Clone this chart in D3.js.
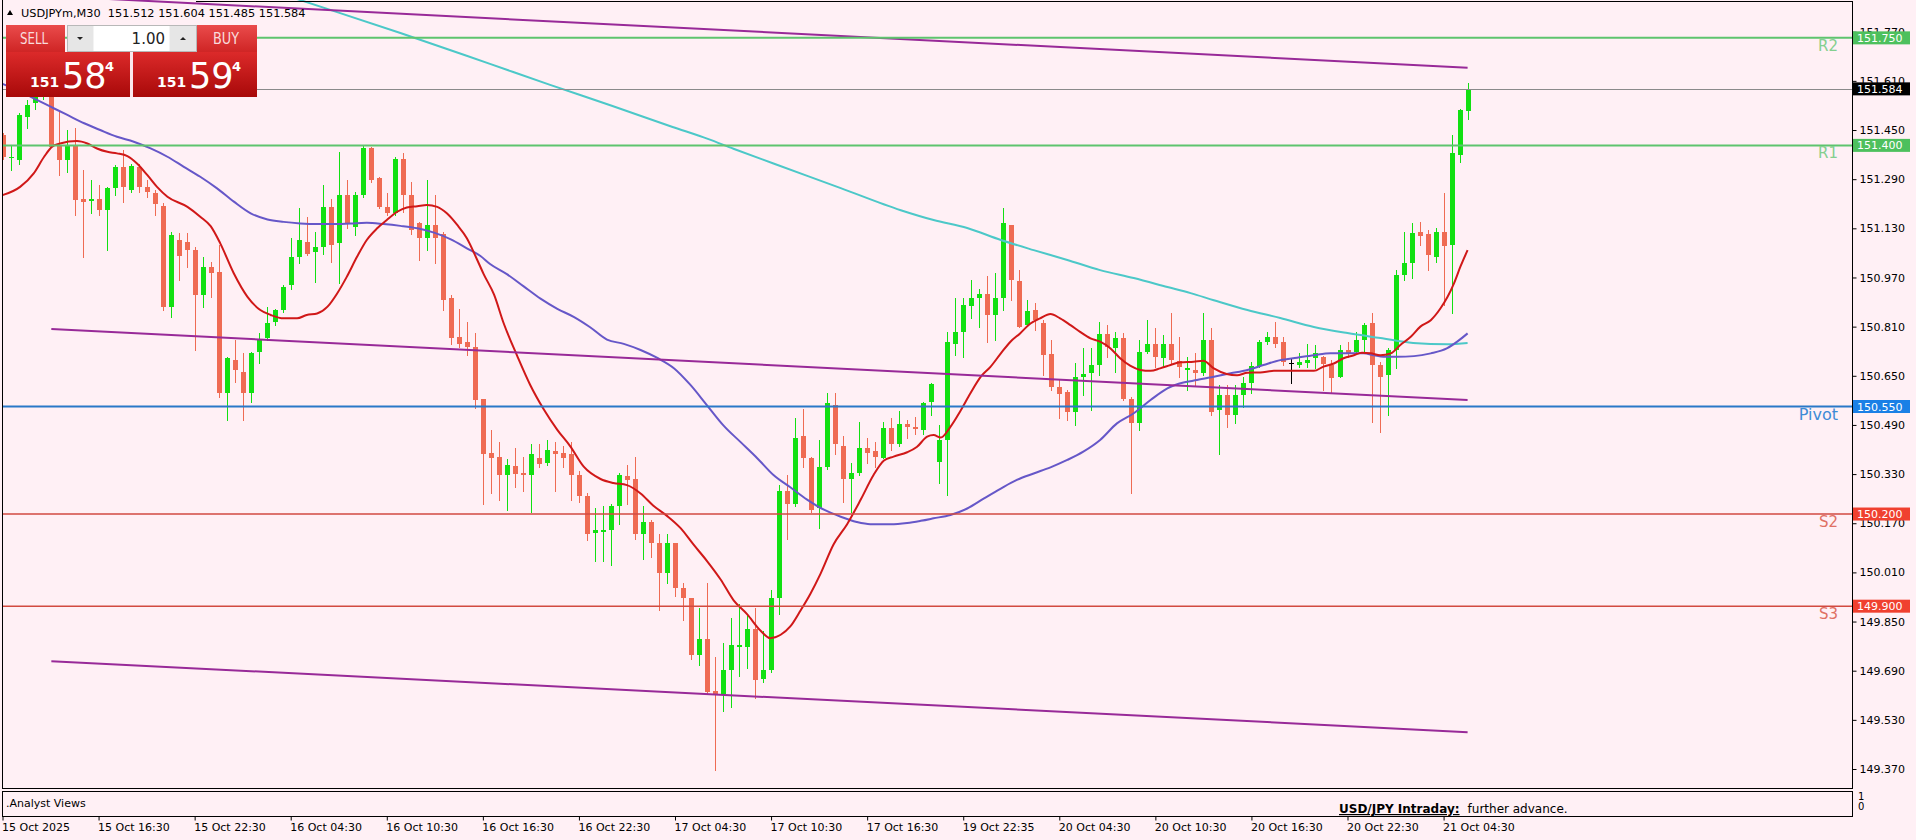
<!DOCTYPE html>
<html><head><meta charset="utf-8">
<script src="https://cdn.jsdelivr.net/npm/d3@7"></script>
<style>
html,body{margin:0;padding:0;background:#fff0f5;}
svg{display:block;}
text{font-family:"DejaVu Sans",sans-serif;}
</style></head><body>
<svg id="c" width="1916" height="840"></svg>
<script>
// ---------------- DATA ----------------
const symbolTitle = "USDJPYm,M30  151.512 151.604 151.485 151.584";
const lotValue = "1.00";
const sellQuote = ["151", "58", "4"];
const buyQuote = ["151", "59", "4"];

const openV = [151.434,151.358,151.352,151.493,151.537,151.560,151.600,151.401,151.352,151.401,
151.227,151.220,151.224,151.189,151.260,151.331,151.255,151.331,151.265,151.244,
151.203,150.875,151.092,151.086,151.059,150.913,151.005,150.989,150.593,150.701,
150.663,150.593,150.728,150.772,150.826,150.864,150.945,151.038,151.086,151.054,
151.070,151.200,151.081,151.238,151.135,151.238,151.390,151.293,151.200,151.179,
151.357,151.238,151.146,151.097,151.141,151.113,150.902,150.777,150.761,150.744,
150.574,150.400,150.387,150.327,150.356,150.334,150.327,150.381,150.367,150.405,
150.400,150.394,150.327,150.260,150.138,150.141,150.147,150.227,150.324,150.314,
150.134,150.174,150.107,150.007,150.107,149.960,149.927,149.740,149.794,149.623,
149.613,149.693,149.767,149.767,149.827,149.663,149.693,149.927,150.274,150.234,
150.454,150.381,150.220,150.354,150.554,150.421,150.314,150.334,150.414,150.404,
150.383,150.481,150.427,150.492,150.482,150.473,150.566,150.370,150.441,150.755,
150.793,150.877,150.902,150.916,150.848,150.902,151.141,150.959,150.815,150.864,
150.823,150.721,150.614,150.598,150.533,150.645,150.658,150.685,150.786,150.739,
150.772,150.576,150.495,150.728,150.755,150.707,150.755,150.699,150.669,150.669,
150.658,150.766,150.538,150.587,150.522,150.587,150.625,150.682,150.761,150.777,
150.759,150.690,150.685,150.690,150.707,150.710,150.685,150.647,150.734,150.728,
150.766,150.821,150.685,150.652,150.734,150.978,151.016,151.119,151.113,151.038,
151.119,151.076,151.369,151.512];

const highV = [151.439,151.401,151.504,151.547,151.580,151.630,151.610,151.510,151.450,151.455,
151.320,151.287,151.271,151.265,151.336,151.385,151.341,151.341,151.287,151.255,
151.213,151.119,151.114,151.114,151.070,151.038,151.021,151.075,150.712,150.766,
150.723,150.728,150.788,150.875,150.869,150.945,151.097,151.195,151.168,151.119,
151.271,151.227,151.379,151.287,151.249,151.401,151.395,151.298,151.244,151.363,
151.374,151.282,151.151,151.287,151.238,151.119,150.913,150.869,150.826,150.788,
150.574,150.474,150.434,150.380,150.414,150.387,150.427,150.427,150.440,150.434,
150.420,150.434,150.340,150.267,150.220,150.227,150.234,150.334,150.360,150.387,
150.227,150.180,150.134,150.134,150.107,149.974,149.927,149.894,149.974,149.733,
149.780,149.860,149.907,149.874,149.894,149.820,149.954,150.294,150.327,150.514,
150.541,150.387,150.441,150.594,150.594,150.454,150.367,150.501,150.447,150.434,
150.501,150.514,150.534,150.506,150.517,150.566,150.625,150.490,150.793,150.902,
150.902,150.962,150.934,150.975,150.985,151.195,151.141,150.994,150.896,150.886,
150.831,150.766,150.641,150.604,150.690,150.739,150.739,150.826,150.815,150.794,
150.788,150.582,150.766,150.831,150.804,150.782,150.853,150.777,150.712,150.723,
150.853,150.804,150.620,150.620,150.620,150.647,150.696,150.766,150.793,150.826,
150.777,150.707,150.723,150.755,150.750,150.714,150.701,150.750,150.761,150.793,
150.821,150.853,150.696,150.739,150.994,151.119,151.146,151.151,151.124,151.130,
151.244,151.434,151.520,151.604];

const lowV = [151.357,151.320,151.341,151.455,151.520,151.550,151.396,151.303,151.314,151.173,
151.038,151.179,151.173,151.059,151.238,151.217,151.249,151.249,151.233,151.173,
150.864,150.842,150.962,151.005,150.734,150.875,150.907,150.582,150.506,150.631,
150.506,150.566,150.690,150.766,150.815,150.859,150.934,151.016,151.043,150.956,
151.048,151.021,150.951,151.130,151.108,151.233,151.282,151.195,151.173,151.173,
151.184,151.113,151.027,151.059,151.016,150.864,150.755,150.744,150.717,150.544,
150.234,150.267,150.247,150.214,150.287,150.274,150.207,150.354,150.361,150.274,
150.354,150.247,150.240,150.114,150.047,150.047,150.034,150.167,150.234,150.120,
150.054,150.060,149.887,149.974,149.934,149.854,149.727,149.707,149.613,149.367,
149.560,149.573,149.673,149.700,149.600,149.653,149.687,149.874,150.120,150.227,
150.354,150.207,150.154,150.347,150.394,150.240,150.207,150.327,150.367,150.354,
150.381,150.407,150.421,150.446,150.462,150.462,150.522,150.300,150.262,150.717,
150.712,150.837,150.810,150.761,150.766,150.864,150.896,150.810,150.815,150.799,
150.652,150.604,150.511,150.506,150.490,150.587,150.538,150.652,150.712,150.663,
150.571,150.267,150.473,150.723,150.679,150.679,150.690,150.647,150.604,150.620,
150.652,150.522,150.397,150.484,150.495,150.549,150.593,150.679,150.755,150.745,
150.685,150.625,150.679,150.679,150.674,150.604,150.598,150.647,150.712,150.723,
150.728,150.501,150.468,150.522,150.674,150.962,150.967,151.076,150.994,151.021,
150.880,150.853,151.347,151.485];

const closeV = [151.363,151.363,151.499,151.531,151.560,151.600,151.396,151.352,151.401,151.222,
151.217,151.224,151.189,151.260,151.331,151.263,151.333,151.265,151.249,151.209,
150.875,151.108,151.040,151.059,150.913,151.005,150.983,150.593,150.707,150.669,
150.593,150.725,150.766,150.821,150.864,150.940,151.038,151.092,151.048,151.070,
151.200,151.075,151.238,151.146,151.238,151.390,151.287,151.200,151.179,151.357,
151.238,151.124,151.097,151.141,151.097,150.896,150.772,150.755,150.744,150.571,
150.394,150.383,150.327,150.360,150.330,150.327,150.394,150.364,150.407,150.396,
150.381,150.327,150.260,150.134,150.147,150.147,150.227,150.327,150.311,150.134,
150.174,150.107,150.007,150.107,149.960,149.927,149.740,149.794,149.620,149.613,
149.693,149.774,149.774,149.827,149.660,149.693,149.927,150.274,150.234,150.447,
150.381,150.214,150.354,150.561,150.427,150.314,150.334,150.414,150.400,150.384,
150.481,150.427,150.494,150.482,150.478,150.563,150.623,150.441,150.761,150.793,
150.880,150.902,150.916,150.848,150.902,151.146,150.962,150.810,150.862,150.831,
150.717,150.614,150.590,150.533,150.647,150.656,150.685,150.786,150.745,150.772,
150.576,150.495,150.726,150.755,150.712,150.755,150.701,150.679,150.674,150.658,
150.766,150.533,150.587,150.522,150.587,150.625,150.682,150.761,150.777,150.755,
150.696,150.690,150.696,150.701,150.725,150.688,150.642,150.734,150.723,150.766,
150.815,150.685,150.647,150.734,150.978,151.016,151.116,151.105,151.043,151.119,
151.072,151.374,151.515,151.584];

// moving averages: [bar index, price]
const maFast = [[0,151.238],[2.2,151.265],[3.9,151.309],[5.2,151.363],[6.2,151.396],[7.2,151.406],[9.3,151.414],[10.6,151.406],[11.8,151.390],[13.1,151.379],[14.3,151.374],[15.6,151.365],[16.8,151.341],[18.1,151.303],[19.3,151.265],[20.6,151.233],[23.1,151.200],[24.7,151.168],[26,151.137],[27.2,151.081],[28.9,150.983],[30.6,150.907],[32.2,150.864],[33.5,150.848],[35.1,150.837],[36.8,150.837],[38,150.848],[39.3,150.853],[40.6,150.875],[41.8,150.918],[43,150.972],[44.3,151.038],[45.5,151.092],[46.8,151.130],[48,151.157],[49.3,151.184],[50.5,151.198],[51.8,151.202],[53,151.206],[54.3,151.200],[55.5,151.179],[56.8,151.141],[58,151.098],[59.3,151.027],[60.1,150.981],[61.4,150.914],[62.6,150.821],[64.3,150.714],[65.9,150.621],[67.6,150.541],[69.3,150.474],[70.9,150.421],[72.6,150.354],[74.7,150.314],[76.3,150.301],[78,150.294],[79.7,150.267],[81.3,150.227],[83,150.194],[84.7,150.154],[86.3,150.101],[88,150.047],[89.7,149.987],[91.3,149.920],[93,149.874],[94.7,149.820],[95.9,149.796],[97.2,149.807],[98.4,149.834],[99.7,149.887],[100.9,149.940],[102.2,150.007],[103.8,150.101],[105.5,150.167],[107.2,150.247],[108.8,150.327],[110.1,150.374],[111.3,150.387],[113,150.401],[114.2,150.418],[115.5,150.452],[116.3,150.457],[117.2,150.449],[118.4,150.484],[119.7,150.538],[120.9,150.593],[122.2,150.647],[123.4,150.679],[124.7,150.723],[125.9,150.761],[127.1,150.788],[128.4,150.820],[129.6,150.837],[130.9,150.851],[132.1,150.837],[133.4,150.815],[134.6,150.793],[135.9,150.772],[137.1,150.761],[138.4,150.739],[139.6,150.707],[140.9,150.682],[142.1,150.669],[143.4,150.666],[144.6,150.674],[145.9,150.685],[147.1,150.694],[148.8,150.696],[150,150.699],[151.3,150.674],[152.9,150.656],[154.2,150.652],[155.5,150.660],[157.1,150.661],[158.8,150.666],[160.4,150.666],[162.1,150.666],[163.8,150.666],[165,150.680],[166.3,150.690],[167.5,150.707],[168.8,150.717],[169.8,150.725],[170.9,150.723],[172.1,150.717],[173.4,150.723],[174.6,150.750],[175.9,150.777],[177.1,150.810],[178.4,150.831],[179.6,150.869],[180.5,150.907],[181.3,150.951],[182.1,151.005],[183,151.059]];

const maMid = [[0,151.600],[2,151.578],[3.9,151.553],[6,151.526],[8.1,151.499],[10.2,151.472],[12.2,151.450],[14.3,151.428],[16.4,151.412],[18.5,151.390],[20.6,151.363],[22.6,151.331],[24.7,151.298],[26.8,151.260],[28.9,151.217],[31,151.179],[33.1,151.159],[35.1,151.151],[37.2,151.146],[39.3,151.144],[41.4,151.144],[43.5,151.146],[45.5,151.148],[47.6,151.144],[49.7,151.138],[51.8,151.130],[53.9,151.116],[56,151.094],[58,151.065],[59.7,151.040],[60.9,151.014],[63,150.981],[65.1,150.941],[67.2,150.901],[69.3,150.868],[71.4,150.841],[73.4,150.808],[75.5,150.768],[77.6,150.754],[79.7,150.734],[81.8,150.708],[83.9,150.674],[85.9,150.621],[88,150.554],[90.1,150.487],[92.2,150.434],[94.3,150.381],[96.3,150.327],[98.4,150.287],[100.5,150.247],[102.6,150.214],[104.7,150.191],[106.7,150.174],[108.4,150.167],[110.9,150.167],[113,150.171],[114.7,150.178],[116.3,150.186],[118.4,150.197],[120.5,150.218],[122.6,150.251],[124.7,150.283],[126.7,150.311],[128.8,150.332],[130.9,150.352],[133,150.376],[135,150.403],[137.1,150.441],[139.2,150.495],[141.3,150.528],[143.4,150.571],[145.5,150.609],[147.5,150.628],[149.2,150.636],[151.3,150.647],[153.4,150.658],[155.5,150.669],[157.5,150.685],[159.6,150.701],[161.7,150.709],[163.8,150.717],[165.9,150.723],[168,150.723],[170,150.723],[171.3,150.717],[172.5,150.712],[174.2,150.712],[176.3,150.714],[178.4,150.723],[180.4,150.739],[181.7,150.761],[183,150.788]];

const maSlow = [[30,151.935],[37.2,151.873],[49.7,151.766],[60.8,151.666],[68.4,151.597],[76.1,151.529],[83.7,151.460],[88.1,151.421],[91.3,151.389],[96.3,151.341],[104.7,151.261],[112.2,151.189],[116.3,151.157],[120.5,151.131],[124.7,151.092],[128.8,151.059],[133,151.027],[137.1,150.994],[141.3,150.968],[145.5,150.939],[148.4,150.919],[151.3,150.896],[155.5,150.864],[159.6,150.838],[163.8,150.809],[168,150.789],[172.1,150.773],[176.2,150.757],[180.5,150.753],[183,150.757]];

// regression channel: [start, end] as [bar index, price]
const channelTop = [[6.1,151.886],[183,151.653]];
const channelMid = [[6.1,150.802],[183,150.571]];
const channelBot = [[6.1,149.721],[183,149.490]];

const levelNames = ["R2","R1","Pivot","S2","S3"];
const levelValues = [151.750,151.400,150.550,150.200,149.900];
const levelKinds = ["res","res","pivot","sup","sup"];
const bidPrice = 151.584;

const priceTicks = [149.370,149.530,149.690,149.850,150.010,150.170,150.330,150.490,150.650,150.810,150.970,151.130,151.290,151.450,151.610,151.770];
const timeTickIdx = [0,12,24,36,48,60,72,84,96,108,120,132,144,156,168,180];
const timeTickLabels = ["15 Oct 2025","15 Oct 16:30","15 Oct 22:30","16 Oct 04:30","16 Oct 10:30","16 Oct 16:30","16 Oct 22:30","17 Oct 04:30","17 Oct 10:30","17 Oct 16:30","19 Oct 22:35","20 Oct 04:30","20 Oct 10:30","20 Oct 16:30","20 Oct 22:30","21 Oct 04:30"];
const indicatorName = ".Analyst Views";
const analystHead = "USD/JPY Intraday:";
const analystText = "further advance.";
const indicatorTicks = ["1","0"];

// ---------------- STYLE ----------------
const C = {
  bg:"#fff0f5", up:"#12e012", down:"#ef6b53", doji:"#000000",
  fast:"#d01818", mid:"#6657c8", slow:"#4cc8c8", chan:"#982a98",
  res:"#5ec46e", resTxt:"#84cf8f", resBox:"#4dc05d",
  pivot:"#2a78c8", pivotTxt:"#3d8bd6", pivotBox:"#1a80e6",
  sup:"#d24a40", supTxt:"#e07064", supBox:"#f0402f",
  bid:"#8a8a8a"
};
const L = {left:2, right:1852, top:0, bottom:788, indTop:791, indBot:816};

const svg = d3.select("#c");
svg.append("rect").attr("width",1916).attr("height",840).attr("fill",C.bg);

const n = openV.length;
const x = d3.scaleLinear().domain([0, n-1]).range([2.5, 2.5 + (n-1)*8.006]);
const y = d3.scaleLinear().domain([149.37, 151.77]).range([769, 769 - 2.4*307.2]);

const defs = svg.append("defs");
defs.append("clipPath").attr("id","plot").append("rect")
  .attr("x",L.left).attr("y",L.top).attr("width",L.right-L.left).attr("height",L.bottom-L.top);

const plot = svg.append("g").attr("clip-path","url(#plot)");

// candles
const cg = plot.append("g").attr("shape-rendering","crispEdges");
d3.range(n).forEach(i=>{
  const o=openV[i], h=highV[i], l=lowV[i], c=closeV[i];
  const col = c>o ? C.up : (c<o ? C.down : C.doji);
  const cx = Math.round(x(i));
  const yh = Math.round(y(h)), yl = Math.round(y(l));
  cg.append("rect").attr("x",cx).attr("y",yh).attr("width",1).attr("height",Math.max(1,yl-yh+1)).attr("fill",col);
  const yt = Math.round(y(Math.max(o,c))), yb = Math.round(y(Math.min(o,c)));
  if (c===o) {
    cg.append("rect").attr("x",cx-2).attr("y",yt).attr("width",5).attr("height",1).attr("fill",col);
  } else {
    cg.append("rect").attr("x",cx-2).attr("y",yt).attr("width",5).attr("height",Math.max(1,yb-yt)).attr("fill",col);
  }
});

// moving averages
const line = d3.line().x(d=>x(d[0])).y(d=>y(d[1])).curve(d3.curveMonotoneX);
[[maSlow,C.slow],[maMid,C.mid],[maFast,C.fast]].forEach(([d,col])=>{
  plot.append("path").datum(d).attr("d",line).attr("fill","none").attr("stroke",col).attr("stroke-width",2);
});

// channel
const sline = d3.line().x(d=>x(d[0])).y(d=>y(d[1]));
[channelTop,channelMid,channelBot].forEach(d=>{
  plot.append("path").datum(d).attr("d",sline).attr("fill","none").attr("stroke",C.chan).attr("stroke-width",2);
});

// levels
const lg = plot.append("g");
levelValues.forEach((v,k)=>{
  const kind=levelKinds[k];
  const col = C[kind];
  lg.append("line").attr("x1",L.left).attr("x2",L.right).attr("y1",y(v)).attr("y2",y(v))
    .attr("stroke",col).attr("stroke-width",kind==="sup"?1.6:2);
  lg.append("text").attr("x",1838).attr("y",y(v)+13).attr("text-anchor","end")
    .attr("font-size",kind==="pivot"?16:15).attr("fill",C[kind+"Txt"]).text(levelNames[k]);
});
// bid line
plot.append("line").attr("x1",L.left).attr("x2",L.right).attr("y1",Math.round(y(bidPrice))+0.5).attr("y2",Math.round(y(bidPrice))+0.5)
  .attr("stroke",C.bid).attr("stroke-width",1);

// frame
const fr = svg.append("g").attr("stroke","#000").attr("fill","none").attr("shape-rendering","crispEdges");
fr.append("path").attr("d",`M${L.left+0.5},${L.top} V${L.bottom+0.5} H${L.right+0.5} V${L.top+1.5} H196`);
fr.append("rect").attr("x",L.left+0.5).attr("y",L.indTop+0.5).attr("width",L.right-L.left).attr("height",L.indBot-L.indTop);

// right price axis
const ya = svg.append("g").attr("transform",`translate(${L.right+0.5},0)`)
  .call(d3.axisRight(y).tickValues(priceTicks).tickSize(4).tickPadding(3).tickFormat(d3.format(".3f")));
ya.select(".domain").remove();
ya.selectAll("text").attr("font-family","DejaVu Sans").attr("font-size",11).attr("fill","#000");
ya.selectAll("line").attr("stroke","#000");

// time axis
const xa = svg.append("g").attr("transform",`translate(0,${L.indBot+0.5})`)
  .call(d3.axisBottom(x).tickValues(timeTickIdx).tickSize(4).tickPadding(3).tickFormat((d,k)=>timeTickLabels[k]));
xa.select(".domain").remove();
xa.selectAll("text").attr("font-family","DejaVu Sans").attr("font-size",11).attr("fill","#000").attr("text-anchor","start").attr("dx",-1);
xa.selectAll("line").attr("stroke","#000");

// price boxes
const boxes = levelValues.map((v,k)=>({v, fill:C[levelKinds[k]+"Box"]})).concat([{v:bidPrice, fill:"#000"}]);
boxes.forEach(b=>{
  const yy = y(b.v);
  svg.append("rect").attr("x",L.right+1).attr("y",yy-6.5).attr("width",57).attr("height",13).attr("fill",b.fill);
  svg.append("text").attr("x",L.right+5).attr("y",yy+4).attr("font-size",11).attr("fill","#fff").text(d3.format(".3f")(b.v));
});

// indicator window texts
svg.append("text").attr("x",6).attr("y",807).attr("font-size",11).attr("fill","#000").text(indicatorName);
const at = svg.append("text").attr("x",1339).attr("y",813).attr("font-size",12).attr("fill","#000");
at.append("tspan").attr("font-weight","bold").attr("text-decoration","underline").text(analystHead);
at.append("tspan").attr("dx",8).text(analystText);
indicatorTicks.forEach((t,k)=>{
  svg.append("text").attr("x",L.right+6).attr("y",800+k*10).attr("font-size",10).attr("fill","#000").text(t);
});

// ---------------- trade panel ----------------
const g1 = defs.append("linearGradient").attr("id","btn").attr("x1",0).attr("x2",0).attr("y1",0).attr("y2",1);
g1.append("stop").attr("offset","0%").attr("stop-color","#ea4b4b");
g1.append("stop").attr("offset","100%").attr("stop-color","#cf2525");
const g2 = defs.append("linearGradient").attr("id","pbox").attr("x1",0).attr("x2",0).attr("y1",0).attr("y2",1);
g2.append("stop").attr("offset","0%").attr("stop-color","#dc2a2a");
g2.append("stop").attr("offset","100%").attr("stop-color","#a80909");

const p = svg.append("g");
p.append("path").attr("d","M7,15 L13,15 L10,10 Z").attr("fill","#000");
p.append("text").attr("x",21).attr("y",17).attr("font-size",11.3).attr("fill","#000")
  .style("white-space","pre").text(symbolTitle);

p.append("rect").attr("x",6).attr("y",25).attr("width",59).attr("height",27).attr("fill","url(#btn)");
p.append("text").attr("x",20).attr("y",44).attr("font-family","Liberation Sans").attr("font-size",15).attr("fill","#f9dcdc")
  .attr("textLength",28).attr("lengthAdjust","spacingAndGlyphs").text("SELL");
p.append("rect").attr("x",197).attr("y",25).attr("width",60).attr("height",27).attr("fill","url(#btn)");
p.append("text").attr("x",213).attr("y",44).attr("font-family","Liberation Sans").attr("font-size",15).attr("fill","#f9dcdc")
  .attr("textLength",26).attr("lengthAdjust","spacingAndGlyphs").text("BUY");
p.append("rect").attr("x",67.5).attr("y",25.5).attr("width",129).attr("height",26).attr("fill","#e6e6e6").attr("stroke","#b8b8b8");
p.append("rect").attr("x",93.5).attr("y",26).attr("width",76).attr("height",25).attr("fill","#fff");
p.append("path").attr("d","M77,37 L83,37 L80,40 Z").attr("fill","#222");
p.append("path").attr("d","M180,40 L186,40 L183,37 Z").attr("fill","#222");
p.append("text").attr("x",165).attr("y",44).attr("text-anchor","end").attr("font-family","Liberation Sans").attr("font-size",15).attr("fill","#222").text(lotValue);

[[6,sellQuote],[133,buyQuote]].forEach(([bx,q])=>{
  p.append("rect").attr("x",bx).attr("y",52).attr("width",124).attr("height",45).attr("fill","url(#pbox)");
  p.append("text").attr("x",bx+24).attr("y",87).attr("font-family","Liberation Sans").attr("font-weight","bold").attr("font-size",14).attr("fill","#fff").text(q[0]);
  p.append("text").attr("x",bx+56).attr("y",88).attr("font-family","Liberation Sans").attr("font-size",35).attr("fill","#fff").text(q[1]);
  p.append("text").attr("x",bx+99).attr("y",71).attr("font-family","Liberation Sans").attr("font-weight","bold").attr("font-size",13).attr("fill","#fff").text(q[2]);
});
p.append("rect").attr("x",130).attr("y",52).attr("width",3).attr("height",45).attr("fill","#fbe7ec");
</script>
</body></html>
